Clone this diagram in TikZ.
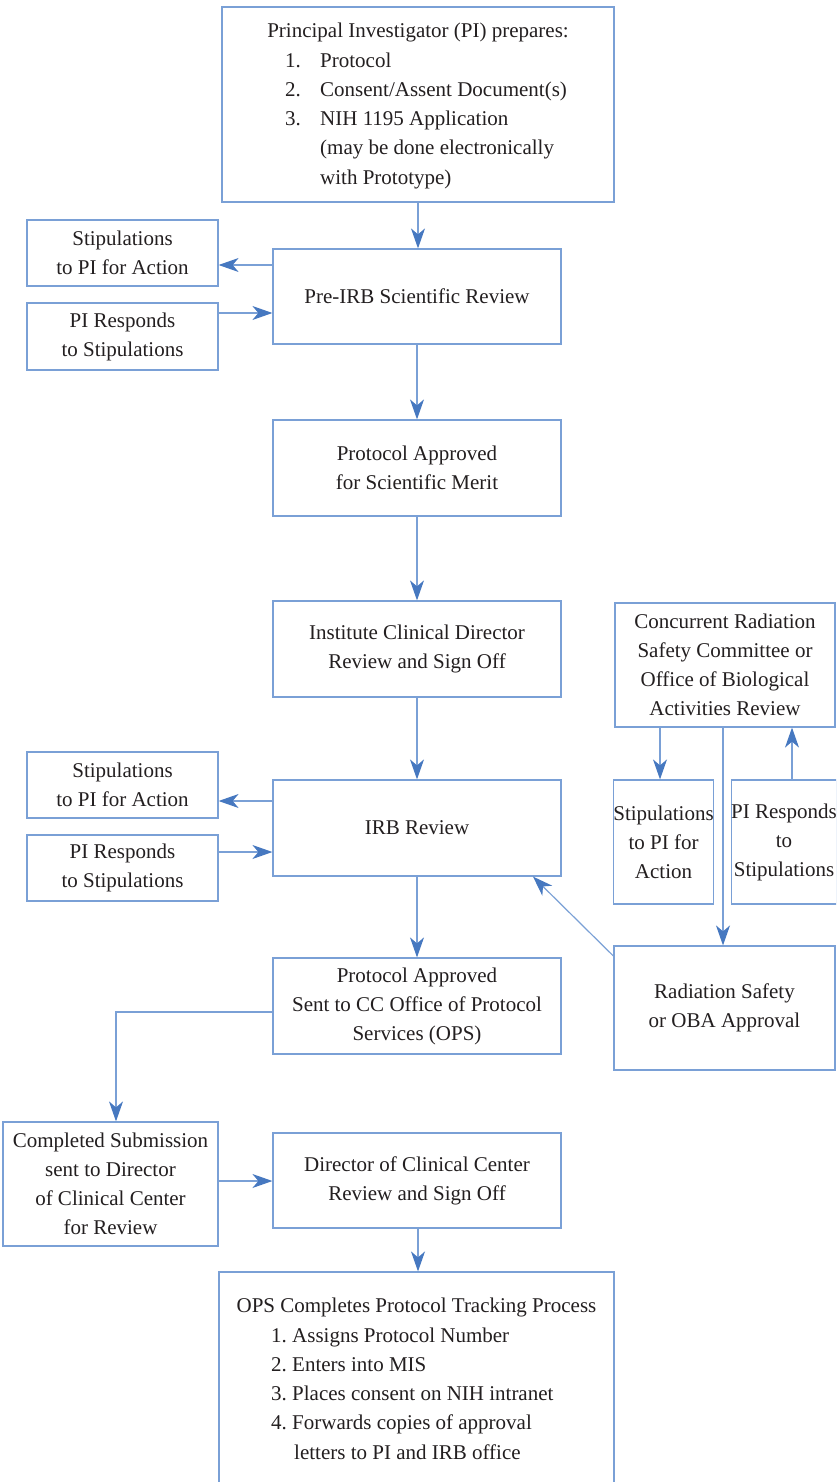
\documentclass[tikz,border=0pt]{standalone}
\usepackage{fontspec}
\setmainfont{Liberation Serif}
\usetikzlibrary{arrows.meta}
\definecolor{boxc}{RGB}{122,160,214}
\definecolor{arrc}{RGB}{70,120,192}
\definecolor{txt}{RGB}{35,31,32}
\begin{document}
\begin{tikzpicture}[x=1pt,y=-1pt,
  box/.style={draw=boxc, line width=1.2pt, inner sep=0pt, align=center,
    font=\fontsize{21}{29}\selectfont, text=txt},
  arr/.style={draw=boxc, line width=1.2pt,
    -{Stealth[length=20pt,width=14pt,inset=6pt,fill=arrc,color=arrc]}},
  lbl/.style={font=\fontsize{21}{29}\selectfont, text=txt, inner sep=0pt}]
\useasboundingbox (0,0) rectangle (836,1482);
\clip (0,0) rectangle (836,1482);
\fill[white] (0,0) rectangle (836,1482);

% main column
\node[box, minimum width=392, minimum height=195] (pi) at (418,104.5) {};
\node[lbl, anchor=base] (pit) at (418,38) {Principal Investigator (PI) prepares:};
\node[lbl, anchor=base west] (pin1) at (285,68) {1.};
\node[lbl, anchor=base west] (pil1) at (320,68) {Protocol};
\node[lbl, anchor=base west] (pin2) at (285,97) {2.};
\node[lbl, anchor=base west] (pil2) at (320,97) {Consent/Assent Document(s)};
\node[lbl, anchor=base west] (pin3) at (285,126) {3.};
\node[lbl, anchor=base west] (pil3) at (320,126) {NIH 1195 Application};
\node[lbl, anchor=base west] (pil4) at (320,155) {(may be done electronically};
\node[lbl, anchor=base west] (pil5) at (320,185) {with Prototype)};

\node[box, minimum width=288, minimum height=95] (pre) at (417,296.5) {Pre-IRB Scientific Review};
\node[box, minimum width=191, minimum height=66] (stA) at (122.5,253) {Stipulations\\to PI for Action};
\node[box, minimum width=191, minimum height=67] (rsA) at (122.5,336.5) {PI Responds\\to Stipulations};

\node[box, minimum width=288, minimum height=96] (appr) at (417,468) {Protocol Approved\\for Scientific Merit};
\node[box, minimum width=288, minimum height=96] (inst) at (417,649) {Institute Clinical Director\\Review and Sign Off};
\node[box, minimum width=288, minimum height=96] (irb) at (417,828) {IRB Review};
\node[box, minimum width=191, minimum height=66] (stB) at (122.5,785) {Stipulations\\to PI for Action};
\node[box, minimum width=191, minimum height=66] (rsB) at (122.5,868) {PI Responds\\to Stipulations};

\node[box, minimum width=288, minimum height=96] (sent) at (417,1006) {Protocol Approved\\Sent to CC Office of Protocol\\Services (OPS)};
\node[box, minimum width=215, minimum height=124] (comp) at (110.5,1184) {Completed Submission\\sent to Director\\of Clinical Center\\for Review};
\node[box, minimum width=288, minimum height=95] (dir) at (417,1180.5) {Director of Clinical Center\\Review and Sign Off};

\node[box, minimum width=395, minimum height=228] (ops) at (416.5,1386) {};
\node[lbl, anchor=base] (opst) at (416.5,1312) {OPS Completes Protocol Tracking Process};
\node[lbl, anchor=base west] (opsl1) at (271,1342) {1.\ Assigns Protocol Number};
\node[lbl, anchor=base west] (opsl2) at (271,1371) {2.\ Enters into MIS};
\node[lbl, anchor=base west] (opsl3) at (271,1400) {3.\ Places consent on NIH intranet};
\node[lbl, anchor=base west] (opsl4) at (271,1429) {4.\ Forwards copies of approval};
\node[lbl, anchor=base west] (opsl5) at (294,1459) {letters to PI and IRB office};

% right column
\node[box, minimum width=220, minimum height=124] (conc) at (725,665) {Concurrent Radiation\\Safety Committee or\\Office of Biological\\Activities Review};
\node[box, minimum width=99, minimum height=124] (stC) at (663.5,842) {Stipulations\\to PI for\\Action};
\node[box, minimum width=98, minimum height=124] (rsC) at (784,842) {PI Responds\\to\\Stipulations};
\node[box, minimum width=221, minimum height=124] (rad) at (724.5,1008) {Radiation Safety\\or OBA Approval};

% connectors
\draw[arr] (pi.south) -- (pi.south |- pre.north);
\draw[arr] (pre.west |- 0,265) -- (stA.east |- 0,265);
\draw[arr] (rsA.east |- 0,313) -- (pre.west |- 0,313);
\draw[arr] (pre.south) -- (appr.north);
\draw[arr] (appr.south) -- (inst.north);
\draw[arr] (inst.south) -- (irb.north);
\draw[arr] (irb.west |- 0,801) -- (stB.east |- 0,801);
\draw[arr] (rsB.east |- 0,852) -- (irb.west |- 0,852);
\draw[arr] (irb.south) -- (sent.north);
\draw[arr] (sent.west |- 0,1012) -| (comp.north -| 116,0);
\draw[arr] (comp.east |- 0,1181) -- (dir.west |- 0,1181);
\draw[arr] (dir.south -| 418,0) -- (ops.north -| 418,0);
\draw[arr] (conc.south -| 660,0) -- (stC.north -| 660,0);
\draw[arr] (rsC.north -| 792,0) -- (conc.south -| 792,0);
\draw[arr] (conc.south -| 723,0) -- (rad.north -| 723,0);
\draw[arr] (rad.west |- 0,956) -- (irb.south -| 533,0);
\end{tikzpicture}
\end{document}
